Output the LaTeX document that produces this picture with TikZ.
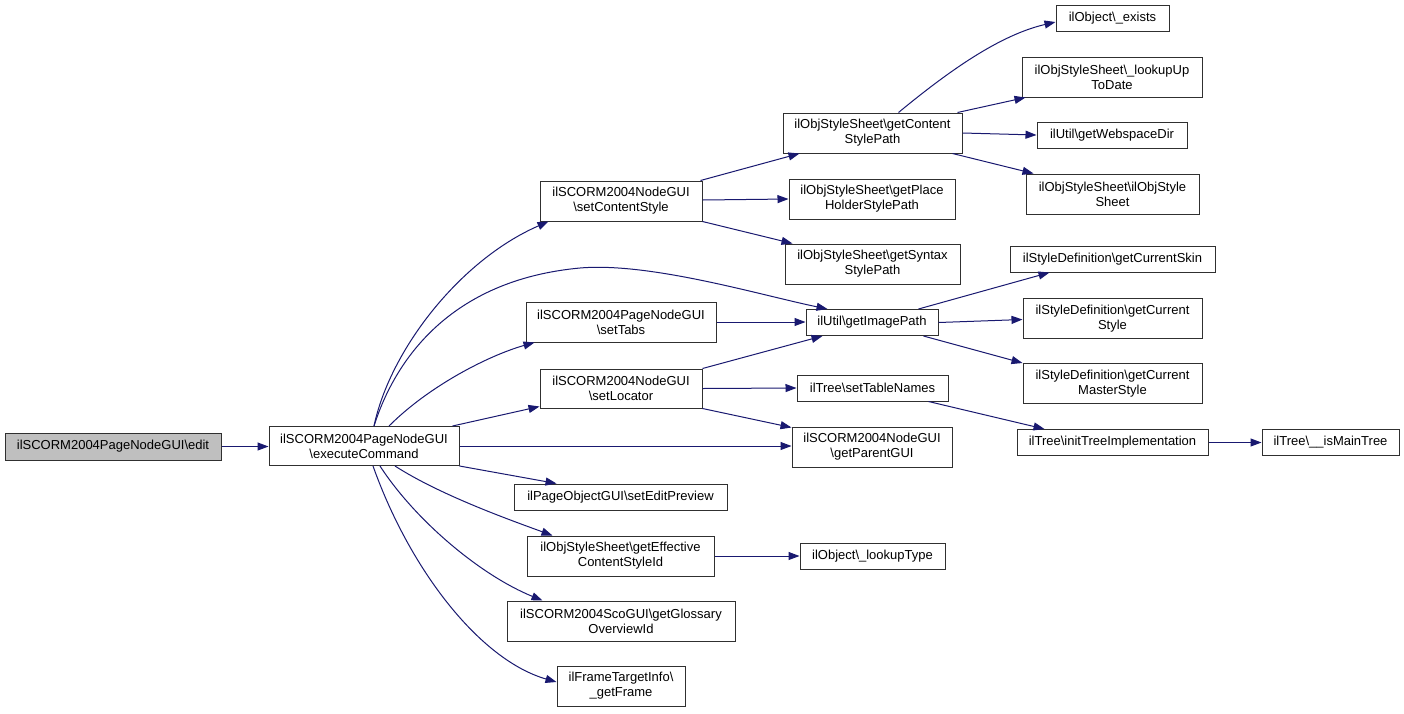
\documentclass[tikz,border=0pt]{standalone}
\usepackage{fontspec}
\setmainfont{Liberation Sans}
\usetikzlibrary{arrows.meta,calc}
\definecolor{edgec}{HTML}{191970}
\definecolor{boxb}{HTML}{303030}
\tikzset{
  fn/.style={draw=boxb,line width=1pt,fill=white,inner sep=0pt,align=center,
    font=\fontsize{13}{15}\selectfont},
  call/.style={draw=edgec,line width=1pt,-{Triangle[length=11pt,width=8pt]}},
}
\newcommand{\bs}{\textbackslash}
\begin{document}
\begin{tikzpicture}[x=1pt,y=-1pt]
\useasboundingbox (0,0) rectangle (1404,713);
\fill[white] (0,0) rectangle (1404,713);
% nodes
\node[fn,fill=black!25,minimum width=216pt,minimum height=27pt] (edit) at (113,446.5) {ilSCORM2004PageNodeGUI\bs edit};
\node[fn,minimum width=190pt,minimum height=39pt] (exec) at (364,446) {ilSCORM2004PageNodeGUI\\\bs executeCommand};
\node[fn,minimum width=162pt,minimum height=40pt] (scs) at (621,201) {ilSCORM2004NodeGUI\\\bs setContentStyle};
\node[fn,minimum width=190pt,minimum height=40pt] (tabs) at (621,322) {ilSCORM2004PageNodeGUI\\\bs setTabs};
\node[fn,minimum width=162pt,minimum height=39pt] (loc) at (621,388.5) {ilSCORM2004NodeGUI\\\bs setLocator};
\node[fn,minimum width=213pt,minimum height=26pt] (prev) at (620.5,497) {ilPageObjectGUI\bs setEditPreview};
\node[fn,minimum width=187pt,minimum height=40pt] (eff) at (620.5,556) {ilObjStyleSheet\bs getEffective\\ContentStyleId};
\node[fn,minimum width=228pt,minimum height=40pt] (glos) at (621,621) {ilSCORM2004ScoGUI\bs getGlossary\\OverviewId};
\node[fn,minimum width=128pt,minimum height=40pt] (frame) at (621,686) {ilFrameTargetInfo\bs\\\_getFrame};
\node[fn,minimum width=179pt,minimum height=40pt] (csp) at (872.5,133) {ilObjStyleSheet\bs getContent\\StylePath};
\node[fn,minimum width=166pt,minimum height=40pt] (ph) at (872,199) {ilObjStyleSheet\bs getPlace\\HolderStylePath};
\node[fn,minimum width=175pt,minimum height=40pt] (syn) at (872.5,264) {ilObjStyleSheet\bs getSyntax\\StylePath};
\node[fn,minimum width=132pt,minimum height=26pt] (img) at (872,322.5) {ilUtil\bs getImagePath};
\node[fn,minimum width=151pt,minimum height=26pt] (stn) at (872.5,388) {ilTree\bs setTableNames};
\node[fn,minimum width=160pt,minimum height=40pt] (pgui) at (872,447) {ilSCORM2004NodeGUI\\\bs getParentGUI};
\node[fn,minimum width=145pt,minimum height=26pt] (lt) at (872.5,556) {ilObject\bs\_lookupType};
\node[fn,minimum width=113pt,minimum height=26pt] (ex) at (1112.5,18) {ilObject\bs\_exists};
\node[fn,minimum width=180pt,minimum height=40pt] (lud) at (1112,77) {ilObjStyleSheet\bs\_lookupUp\\ToDate};
\node[fn,minimum width=150pt,minimum height=26pt] (wsd) at (1112,135) {ilUtil\bs getWebspaceDir};
\node[fn,minimum width=173pt,minimum height=40pt] (oss) at (1112.5,194) {ilObjStyleSheet\bs ilObjStyle\\Sheet};
\node[fn,minimum width=205pt,minimum height=26pt] (skin) at (1112.5,259) {ilStyleDefinition\bs getCurrentSkin};
\node[fn,minimum width=179pt,minimum height=40pt] (cst) at (1112.5,318.5) {ilStyleDefinition\bs getCurrent\\Style};
\node[fn,minimum width=179pt,minimum height=40pt] (mst) at (1112.5,383.5) {ilStyleDefinition\bs getCurrent\\MasterStyle};
\node[fn,minimum width=191pt,minimum height=26pt] (itr) at (1112.5,442.5) {ilTree\bs initTreeImplementation};
\node[fn,minimum width=137pt,minimum height=26pt] (mt) at (1330.5,442.5) {ilTree\bs\_\_isMainTree};
% edges
\draw[call] (edit.east) -- (edit.east -| exec.west);
\draw[call] ($(exec.north)+(10,0)$) .. controls (390,350) and (460,260) .. ($(scs.south west)+(9,0)$);
\draw[call] ($(exec.north)+(10,0)$) .. controls (395,360) and (450,280) .. (580,268) .. controls (650,262) and (760,295) .. ($(img.north west)+(22,0)$);
\draw[call] ($(exec.north)+(25,0)$) .. controls (430,385) and (490,355) .. ($(tabs.south west)+(9,0)$);
\draw[call] ($(exec.north east)+(-7,0)$) -- ($(loc.south west)+(0,-2)$);
\draw[call] (exec.east) -- (exec.east -| pgui.west);
\draw[call] (exec.south east) -- ($(prev.north west)+(43,0)$);
\draw[call] ($(exec.south)+(31,0)$) .. controls (440,495) and (510,520) .. ($(eff.north west)+(26,0)$);
\draw[call] ($(exec.south)+(16,0)$) .. controls (415,520) and (480,575) .. ($(glos.north west)+(36,0)$);
\draw[call] ($(exec.south)+(9,0)$) .. controls (410,570) and (480,660) .. ($(frame.west)+(0,-4)$);
\draw[call] ($(scs.north east)+(-2,0)$) -- ($(csp.south west)+(17,0)$);
\draw[call] ($(scs.east)+(0,-1)$) -- (ph.west);
\draw[call] (scs.south east) -- ($(syn.north west)+(8,0)$);
\draw[call] (tabs.east) -- (tabs.east -| img.west);
\draw[call] (loc.north east) -- ($(img.south west)+(17,0)$);
\draw[call] (loc.east) -- (stn.west);
\draw[call] (loc.south east) -- ($(pgui.north west)+(0,1)$);
\draw[call] (eff.east) -- (lt.west);
\draw[call] ($(csp.north)+(26,0)$) .. controls (950,70) and (1000,35) .. ($(ex.west)+(0,4)$);
\draw[call] ($(csp.north east)+(-5,0)$) -- ($(lud.south west)+(4,0)$);
\draw[call] (csp.east) -- (wsd.west);
\draw[call] ($(csp.south east)+(-10,0)$) -- ($(oss.north west)+(8,0)$);
\draw[call] ($(img.north east)+(-20,0)$) -- ($(skin.south west)+(40,0)$);
\draw[call] (img.east) -- ($(cst.west)+(0,1)$);
\draw[call] ($(img.south east)+(-15,0)$) -- (mst.north west);
\draw[call] ($(stn.south east)+(-20,0)$) -- ($(itr.north west)+(28,0)$);
\draw[call] (itr.east) -- (mt.west);
\end{tikzpicture}
\end{document}
